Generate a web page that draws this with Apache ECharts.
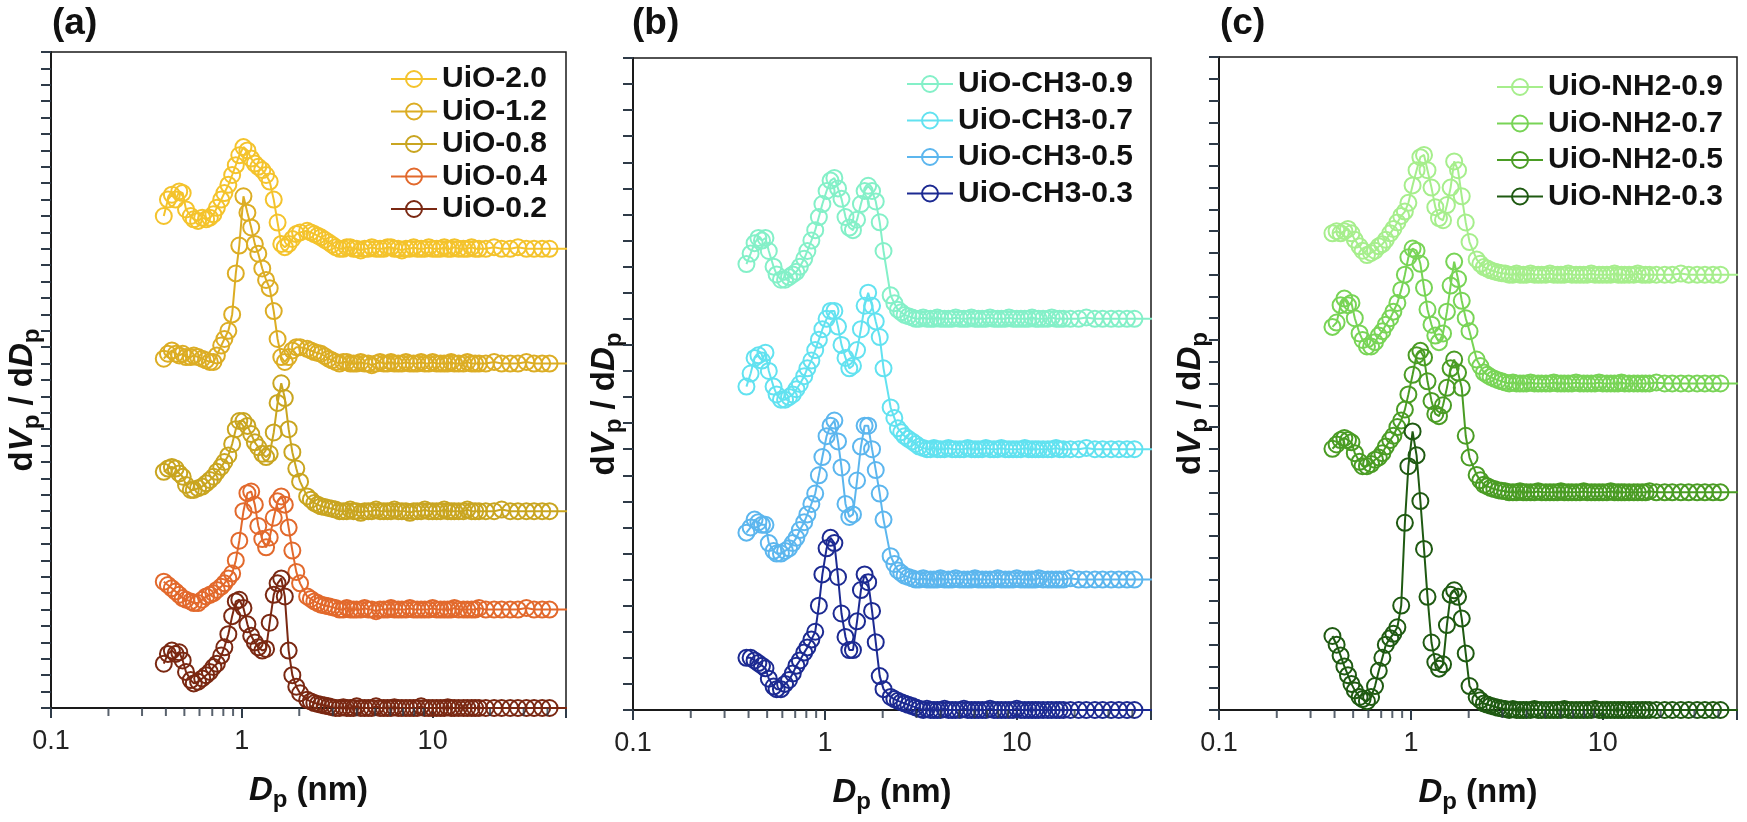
<!DOCTYPE html>
<html>
<head>
<meta charset="utf-8">
<title>Pore size distribution</title>
<script src="https://cdn.jsdelivr.net/npm/echarts@6/dist/echarts.min.js"></script>
<style>
	html, body { margin: 0; padding: 0; background: #fff; }
	#chart { width: 1747px; height: 822px; }
</style>
</head>
<body>
<div id="chart"></div>
<script>

// pore diameter Dp (nm), same bins for every sample; the last bin lies past the axis end
const XS = [
	0.39, 0.41, 0.43, 0.45, 0.47, 0.49, 0.51, 0.54, 0.56, 0.59,
	0.62, 0.65, 0.68, 0.71, 0.74, 0.78, 0.81, 0.85, 0.89, 0.93,
	0.97, 1.02, 1.07, 1.12, 1.17, 1.22, 1.28, 1.34, 1.40, 1.47,
	1.54, 1.61, 1.68, 1.76, 1.84, 1.93, 2.02,
	2.2, 2.3, 2.4, 2.5, 2.6, 2.72, 2.85, 2.97, 3.1,
	3.25, 3.4, 3.55, 3.7, 3.85, 4.0, 4.2, 4.4, 4.6, 4.8,
	5.05, 5.3, 5.55, 5.8, 6.05, 6.3, 6.6, 6.9, 7.25, 7.6,
	7.95, 8.3, 8.7, 9.1, 9.55, 10, 10.5, 11, 11.5, 12,
	12.5, 13, 13.7, 14.5, 15.2, 16, 16.7, 17.5, 19, 21,
	23, 25.5, 28, 31, 34, 37.5, 41, 60
];

// minor ticks of the log axis
const MINOR_TICKS = [0.2, 0.3, 0.4, 0.5, 0.6, 0.7, 0.8, 0.9, 2, 3, 4, 5, 6, 7, 8, 9, 20, 30, 40];

// ---- panel (a) ----
const A_NAMES = ['UiO-2.0', 'UiO-1.2', 'UiO-0.8', 'UiO-0.4', 'UiO-0.2'];
const A_COLORS = ['#f4c32c', '#dcad24', '#c9a520', '#e2692c', '#7a2812'];
const A_OFFSETS = [28, 21, 12, 6, 0];
const A_20 = [
	2.0, 3.0, 3.3, 3.0, 3.5, 3.4, 2.4, 2.0, 1.8, 1.7, 1.9, 1.8, 1.9, 2.1, 2.5, 3.0, 3.4, 3.9, 4.5, 5.1, 5.7, 6.2, 6.0, 5.5, 5.2, 5.0, 4.8, 4.5, 4.1, 3.0, 1.6, 0.3, 0.1, 0.3, 0.6, 0.9, 1.0,
	1.1, 1.0, 0.9, 0.8, 0.7, 0.55, 0.4, 0.25, 0.1,
	0.0, 0.0, 0.1, 0.1, 0.0, 0.0, -0.1, 0.0, 0.0, 0.1, 0.0, 0.0, 0.0, 0.1, 0.1, 0.0, 0.0, -0.1, 0.0, 0.0, 0.1, 0.0, 0.0, 0.0,
	0.1, 0.0, 0.0, 0.0, 0.1, 0.0, 0.0, 0.1, 0.0, 0.0, 0.0, 0.1, 0.0, 0.0, 0.0, 0.1, 0.0, 0.0, 0.1, 0.0, 0.0, 0.0, 0.0, 0.0
];
const A_12 = [
	0.3, 0.6, 0.8, 0.6, 0.5, 0.6, 0.4, 0.4, 0.5, 0.4, 0.3, 0.2, 0.1, 0.1, 0.5, 1.1, 1.5, 2.0, 3.0, 5.5, 7.2, 10.2, 9.2, 8.3, 7.3, 6.7, 5.8, 5.1, 4.6, 3.2, 1.5, 0.4, 0.1, 0.4, 0.8, 1.0, 1.0,
	0.9, 0.8, 0.7, 0.65, 0.6, 0.45, 0.3, 0.2, 0.1,
	0.0, 0.1, 0.1, 0.0, 0.0, 0.0, 0.1, 0.0, 0.0, -0.1, 0.0, 0.1, 0.0, 0.0, 0.1, 0.0, 0.0, 0.0, 0.1, 0.0, 0.0, 0.0, 0.1, 0.0,
	0.0, 0.1, 0.0, 0.0, 0.0, 0.0, 0.1, 0.0, 0.0, 0.0, 0.1, 0.0, 0.0, 0.0, 0.0, 0.1, 0.0, 0.0, 0.0, 0.1, 0.0, 0.0, 0.0, 0.0
];
const A_08 = [
	2.4, 2.6, 2.7, 2.6, 2.3, 2.1, 1.6, 1.3, 1.3, 1.4, 1.5, 1.7, 1.9, 2.1, 2.4, 2.7, 3.0, 3.4, 4.1, 5.0, 5.5, 5.5, 5.2, 4.7, 4.2, 3.9, 3.5, 3.3, 3.5, 4.8, 6.6, 7.8, 6.9, 5.0, 3.6, 2.6, 1.8,
	0.9, 0.7, 0.5, 0.4, 0.3, 0.25, 0.2, 0.15, 0.1,
	0.0, 0.0, 0.0, 0.1, 0.0, 0.0, -0.1, 0.0, 0.0, 0.0, 0.1, 0.0, 0.0, 0.0, 0.0, 0.1, 0.0, 0.0, 0.0, -0.1, 0.0, 0.0, 0.0, 0.1,
	0.0, 0.0, 0.0, 0.0, 0.1, 0.0, 0.0, 0.0, 0.0, 0.0, 0.1, 0.0, 0.0, 0.0, 0.0, 0.0, 0.1, 0.0, 0.0, 0.0, 0.0, 0.0, 0.0, 0.0
];
const A_04 = [
	1.7, 1.5, 1.3, 1.1, 0.9, 0.7, 0.6, 0.5, 0.4, 0.4, 0.6, 0.8, 0.9, 1.0, 1.2, 1.4, 1.6, 1.9, 2.2, 3.0, 4.2, 6.0, 7.1, 7.2, 6.4, 5.1, 4.3, 3.8, 4.4, 5.6, 6.6, 6.9, 6.4, 5.0, 3.6, 2.3, 1.6,
	0.8, 0.65, 0.5, 0.4, 0.3, 0.25, 0.2, 0.15, 0.1,
	0.0, 0.0, 0.1, 0.0, 0.0, 0.0, 0.0, 0.1, 0.0, 0.0, -0.1, 0.0, 0.0, 0.0, 0.1, 0.0, 0.0, 0.0, 0.0, 0.1, 0.0, 0.0, 0.0, 0.0,
	0.0, 0.1, 0.0, 0.0, 0.0, 0.0, 0.0, 0.1, 0.0, 0.0, 0.0, 0.0, 0.0, 0.1, 0.0, 0.0, 0.0, 0.0, 0.0, 0.1, 0.0, 0.0, 0.0, 0.0
];
const A_02 = [
	2.7, 3.3, 3.5, 3.3, 3.4, 2.9, 2.2, 1.7, 1.5, 1.6, 1.8, 2.0, 2.2, 2.5, 2.7, 3.2, 3.7, 4.5, 5.6, 6.5, 6.6, 6.1, 5.1, 4.4, 4.0, 3.7, 3.5, 3.6, 5.2, 6.9, 7.6, 7.9, 6.8, 3.5, 2.0, 1.3, 0.9,
	0.5, 0.4, 0.3, 0.25, 0.2, 0.15, 0.1, 0.05, 0.0,
	0.0, 0.05, 0.0, 0.0, 0.0, 0.1, 0.0, 0.0, 0.0, 0.0, 0.1, 0.0, 0.0, 0.0, 0.0, 0.05, 0.0, 0.0, 0.0, 0.0, 0.0, 0.0, 0.1, 0.0,
	0.0, 0.0, 0.0, 0.0, 0.0, 0.05, 0.0, 0.0, 0.0, 0.0, 0.0, 0.0, 0.0, 0.0, 0.0, 0.0, 0.0, 0.0, 0.0, 0.0, 0.0, 0.0, 0.0, 0.0
];

// ---- panel (b) ----
const B_NAMES = ['UiO-CH3-0.9', 'UiO-CH3-0.7', 'UiO-CH3-0.5', 'UiO-CH3-0.3'];
const B_COLORS = ['#84f0c8', '#62e2f0', '#5cb6ee', '#1c2a92'];
const B_OFFSETS = [15, 10, 5, 0];
const B_09 = [
	2.1, 2.5, 2.9, 3.1, 3.0, 3.1, 2.6, 2.0, 1.7, 1.5, 1.5, 1.6, 1.7, 1.8, 2.0, 2.3, 2.6, 3.0, 3.4, 3.9, 4.4, 4.9, 5.3, 5.4, 5.0, 4.6, 3.9, 3.5, 3.4, 3.8, 4.4, 4.9, 5.1, 4.9, 4.5, 3.7, 2.6,
	0.9, 0.6, 0.35, 0.25, 0.15, 0.1, 0.05, 0.0, 0.0,
	0.05, 0.0, 0.0, 0.0, 0.05, 0.0, 0.0, 0.0, 0.0, 0.05, 0.0, 0.0, 0.0, 0.05, 0.0, 0.0, 0.0, 0.0, 0.05, 0.0, 0.0, 0.0, 0.0, 0.05,
	0.0, 0.0, 0.0, 0.0, 0.0, 0.05, 0.0, 0.0, 0.0, 0.0, 0.05, 0.0, 0.0, 0.0, 0.0, 0.0, 0.05, 0.0, 0.0, 0.0, 0.0, 0.0, 0.0, 0.0
];
const B_07 = [
	2.4, 2.9, 3.5, 3.6, 3.4, 3.7, 3.0, 2.4, 2.1, 1.9, 1.9, 2.0, 2.1, 2.3, 2.5, 2.8, 3.1, 3.4, 3.8, 4.2, 4.6, 5.0, 5.3, 5.3, 4.7, 4.0, 3.5, 3.1, 3.2, 3.8, 4.6, 5.5, 6.0, 5.5, 4.9, 4.3, 3.1,
	1.6, 1.2, 0.8, 0.65, 0.5, 0.4, 0.3, 0.2, 0.1,
	0.05, 0.0, 0.0, 0.05, 0.0, 0.0, 0.0, 0.05, 0.0, 0.0, 0.0, 0.0, 0.05, 0.0, 0.0, 0.0, 0.0, 0.05, 0.0, 0.0, 0.0, 0.05, 0.0, 0.0,
	0.0, 0.0, 0.0, 0.05, 0.0, 0.0, 0.0, 0.0, 0.0, 0.0, 0.0, 0.05, 0.0, 0.0, 0.0, 0.0, 0.05, 0.0, 0.0, 0.0, 0.0, 0.0, 0.0, 0.0
];
const B_05 = [
	1.8, 2.0, 2.3, 2.2, 2.1, 2.1, 1.4, 1.1, 1.0, 1.0, 1.1, 1.2, 1.4, 1.6, 1.9, 2.2, 2.5, 2.9, 3.3, 4.0, 4.7, 5.5, 5.9, 6.1, 5.3, 4.3, 2.9, 2.4, 2.5, 3.8, 5.1, 5.9, 5.9, 5.0, 4.2, 3.3, 2.3,
	0.9, 0.6, 0.35, 0.25, 0.15, 0.1, 0.05, 0.0, 0.0,
	0.05, 0.0, 0.0, 0.0, 0.0, 0.05, 0.0, 0.0, 0.0, 0.05, 0.0, 0.0, 0.0, 0.0, 0.05, 0.0, 0.0, 0.0, 0.0, 0.0, 0.05, 0.0, 0.0, 0.0,
	0.0, 0.05, 0.0, 0.0, 0.0, 0.0, 0.0, 0.05, 0.0, 0.0, 0.0, 0.0, 0.0, 0.0, 0.05, 0.0, 0.0, 0.0, 0.0, 0.0, 0.0, 0.0, 0.0, 0.0
];
const B_03 = [
	2.0, 2.0, 1.9, 1.8, 1.7, 1.6, 1.2, 0.9, 0.8, 0.8, 1.0, 1.15, 1.4, 1.7, 1.9, 2.2, 2.4, 2.7, 3.0, 4.0, 5.2, 6.2, 6.6, 6.4, 5.1, 3.7, 2.8, 2.3, 2.3, 3.4, 4.6, 5.2, 4.9, 3.8, 2.6, 1.3, 0.8,
	0.5, 0.42, 0.35, 0.3, 0.25, 0.2, 0.15, 0.1, 0.05,
	0.0, 0.05, 0.0, 0.0, 0.0, 0.0, 0.05, 0.0, 0.0, 0.0, 0.0, 0.05, 0.0, 0.0, 0.0, 0.0, 0.0, 0.0, 0.05, 0.0, 0.0, 0.0, 0.0, 0.0,
	0.0, 0.05, 0.0, 0.0, 0.0, 0.0, 0.0, 0.0, 0.0, 0.0, 0.0, 0.0, 0.0, 0.0, 0.0, 0.0, 0.0, 0.0, 0.0, 0.0, 0.0, 0.0, 0.0, 0.0
];

// ---- panel (c) ----
const C_NAMES = ['UiO-NH2-0.9', 'UiO-NH2-0.7', 'UiO-NH2-0.5', 'UiO-NH2-0.3'];
const C_COLORS = ['#a6ee8c', '#78d456', '#4a9c24', '#1f5a12'];
const C_OFFSETS = [20, 15, 10, 0];
const C_09 = [
	1.9, 2.0, 1.9, 2.0, 2.1, 1.9, 1.6, 1.3, 1.1, 0.9, 1.0, 1.1, 1.3, 1.4, 1.6, 1.9, 2.1, 2.4, 2.7, 2.9, 3.3, 4.1, 4.8, 5.4, 5.5, 4.8, 4.0, 3.1, 2.6, 2.5, 3.2, 4.0, 5.2, 4.8, 3.6, 2.4, 1.5,
	0.7, 0.5, 0.35, 0.28, 0.2, 0.15, 0.1, 0.07, 0.05,
	0.0, 0.0, 0.05, 0.0, 0.0, 0.0, 0.05, 0.0, 0.0, 0.0, 0.0, 0.05, 0.0, 0.0, 0.0, 0.0, 0.05, 0.0, 0.0, 0.0, 0.0, 0.0, 0.05, 0.0,
	0.0, 0.0, 0.0, 0.0, 0.05, 0.0, 0.0, 0.0, 0.0, 0.0, 0.05, 0.0, 0.0, 0.0, 0.0, 0.0, 0.0, 0.05, 0.0, 0.0, 0.0, 0.0, 0.0, 0.0
];
const C_07 = [
	2.6, 2.8, 3.6, 3.9, 3.6, 3.7, 3.0, 2.3, 2.0, 1.7, 1.7, 1.9, 2.2, 2.4, 2.7, 3.0, 3.3, 3.7, 4.3, 5.0, 5.8, 6.2, 6.1, 5.5, 4.4, 3.4, 2.7, 2.2, 1.9, 2.3, 3.3, 4.5, 5.6, 4.8, 3.8, 3.0, 2.4,
	1.1, 0.8, 0.5, 0.4, 0.3, 0.22, 0.15, 0.1, 0.05,
	0.0, 0.05, 0.0, 0.0, 0.0, 0.0, 0.05, 0.0, 0.0, 0.0, 0.0, 0.0, 0.05, 0.0, 0.0, 0.0, 0.0, 0.0, 0.05, 0.0, 0.0, 0.0, 0.0, 0.0,
	0.05, 0.0, 0.0, 0.0, 0.0, 0.0, 0.05, 0.0, 0.0, 0.0, 0.0, 0.0, 0.0, 0.0, 0.05, 0.0, 0.0, 0.0, 0.0, 0.0, 0.0, 0.0, 0.0, 0.0
];
const C_05 = [
	2.0, 2.2, 2.4, 2.5, 2.4, 2.3, 1.8, 1.4, 1.2, 1.2, 1.3, 1.5, 1.6, 1.8, 2.1, 2.4, 2.6, 3.0, 3.3, 3.8, 4.5, 5.4, 6.3, 6.5, 6.2, 5.1, 4.2, 3.6, 3.5, 4.0, 4.8, 5.7, 6.1, 5.5, 4.8, 2.6, 1.6,
	0.8, 0.55, 0.35, 0.28, 0.2, 0.15, 0.1, 0.07, 0.05,
	0.0, 0.0, 0.0, 0.05, 0.0, 0.0, 0.0, 0.0, 0.05, 0.0, 0.0, 0.0, 0.0, 0.0, 0.05, 0.0, 0.0, 0.0, 0.0, 0.0, 0.05, 0.0, 0.0, 0.0,
	0.0, 0.0, 0.0, 0.05, 0.0, 0.0, 0.0, 0.0, 0.0, 0.0, 0.0, 0.0, 0.0, 0.05, 0.0, 0.0, 0.0, 0.0, 0.0, 0.0, 0.0, 0.0, 0.0, 0.0
];
const C_03 = [
	3.4, 3.0, 2.5, 2.0, 1.6, 1.2, 0.9, 0.6, 0.5, 0.4, 0.6, 1.1, 1.8, 2.4, 3.0, 3.3, 3.5, 3.8, 4.8, 8.6, 11.2, 12.8, 11.7, 9.6, 7.4, 5.2, 3.1, 2.2, 1.9, 2.1, 3.9, 5.3, 5.5, 5.2, 4.2, 2.6, 1.1,
	0.6, 0.45, 0.3, 0.25, 0.2, 0.15, 0.1, 0.07, 0.05,
	0.0, 0.05, 0.0, 0.0, 0.0, 0.0, 0.0, 0.05, 0.0, 0.0, 0.0, 0.0, 0.0, 0.0, 0.0, 0.05, 0.0, 0.0, 0.0, 0.0, 0.0, 0.0, 0.0, 0.05,
	0.0, 0.0, 0.0, 0.0, 0.0, 0.0, 0.0, 0.0, 0.0, 0.0, 0.0, 0.0, 0.0, 0.0, 0.0, 0.0, 0.0, 0.0, 0.0, 0.0, 0.0, 0.0, 0.0, 0.0
];

const FONT = '"Liberation Sans", Arial, Helvetica, sans-serif';
const AXIS_COLOR = '#1a1a1a';
const TICK_COLOR = '#2f3b48';

let app = {
	panels: [],
	layout: [],
	option: {},

	init: {},
	buildPanel: {},
	render: {}
};

// panels: data grouped per chart
app.panels = [
	{ label: '(a)', names: A_NAMES, colors: A_COLORS, offsets: A_OFFSETS, values: [A_20, A_12, A_08, A_04, A_02], steps: 40 },
	{ label: '(b)', names: B_NAMES, colors: B_COLORS, offsets: B_OFFSETS, values: [B_09, B_07, B_05, B_03], steps: 25 },
	{ label: '(c)', names: C_NAMES, colors: C_COLORS, offsets: C_OFFSETS, values: [C_09, C_07, C_05, C_03], steps: 30 }
];

// where each panel sits on the page (px)
app.layout = [
	{ left: 51, top: 52, width: 515, height: 656, labelLeft: 47, legendLeft: 390, legendTop: 64, legendGap: 2.5 },
	{ left: 633, top: 58, width: 518, height: 652, labelLeft: 627, legendLeft: 906, legendTop: 69, legendGap: 6.5 },
	{ left: 1219, top: 57, width: 518, height: 653, labelLeft: 1215, legendLeft: 1496, legendTop: 72, legendGap: 6.5 }
];

// rich text for the axis names (italic symbols + subscripts)
const RICH = {
	b: { fontSize: 33, fontWeight: 'bold', color: '#111', fontFamily: FONT, lineHeight: 35, verticalAlign: 'top' },
	bi: { fontSize: 33, fontWeight: 'bold', fontStyle: 'italic', color: '#111', fontFamily: FONT, lineHeight: 35, verticalAlign: 'top' },
	s: { fontSize: 24, fontWeight: 'bold', color: '#111', fontFamily: FONT, lineHeight: 24, verticalAlign: 'top', padding: [14, 0, 0, 0] }
};

app.init = function () {

	this.chart = echarts.init(document.getElementById('chart'));

	this.option = {
		animation: false,
		backgroundColor: '#fff',
		title: [],
		grid: [],
		xAxis: [],
		yAxis: [],
		legend: [],
		series: []
	};

	for (let k = 0; k < this.panels.length; k++) {
		this.buildPanel(k);
	}

	this.render();
};

app.buildPanel = function (k) {

	let p = this.panels[k];
	let g = this.layout[k];
	let opt = this.option;

	opt.grid.push({
		left: g.left, top: g.top, width: g.width, height: g.height,
		show: true, borderColor: AXIS_COLOR, borderWidth: 1.5, backgroundColor: 'transparent'
	});

	opt.title.push({
		text: p.label, left: g.labelLeft, top: 0,
		textStyle: { fontSize: 37, fontWeight: 'bold', color: '#111', fontFamily: FONT }
	});

	opt.xAxis.push({
		type: 'log', logBase: 10, gridIndex: k, min: 0.1, max: 50,
		name: '{bi|D}{s|p}{b| (nm)}', nameLocation: 'middle', nameGap: 66,
		nameTextStyle: { rich: RICH },
		axisLine: { onZero: false, lineStyle: { color: AXIS_COLOR, width: 2 } },
		axisTick: { length: 10, lineStyle: { color: TICK_COLOR, width: 2 } },
		axisLabel: {
			margin: 20, fontSize: 27, color: '#222', fontFamily: FONT,
			formatter: function (v) {
				let e = Math.log10(v);
				if (Math.abs(e - Math.round(e)) > 1e-6) return '';
				return ['0.1', '1', '10', '100'][Math.round(e) + 1];
			}
		},
		splitLine: { show: false }
	});

	// name sits a little below the middle of the axis, as in the source figure
	opt.yAxis.push({
		type: 'value', gridIndex: k, min: 0, max: p.steps, interval: 1,
		name: '{b|d}{bi|V}{s|p}{b| / d}{bi|D}{s|p}', nameLocation: 'middle', nameGap: 10,
		nameTextStyle: { rich: RICH, padding: [0, 40, 0, 0] },
		axisLine: { show: true, onZero: false, lineStyle: { color: AXIS_COLOR, width: 2 } },
		axisTick: { show: true, length: 10, lineStyle: { color: TICK_COLOR, width: 2 } },
		axisLabel: { show: false },
		splitLine: { show: false }
	});

	opt.legend.push({
		data: p.names, orient: 'vertical', align: 'left',
		left: g.legendLeft, top: g.legendTop, padding: 0,
		itemWidth: 46, itemHeight: 20, itemGap: g.legendGap,
		selectedMode: false,
		textStyle: { fontSize: 30, fontWeight: 'bold', color: '#111', fontFamily: FONT, lineHeight: 30 }
	});

	// one line per sample, lifted by its offset
	for (let i = 0; i < p.values.length; i++) {
		let vals = p.values[i];
		let off = p.offsets[i];
		let c = p.colors[i];
		opt.series.push({
			name: p.names[i], type: 'line', xAxisIndex: k, yAxisIndex: k,
			data: XS.map(function (x, j) { return [x, vals[j] + off]; }),
			symbol: 'circle', symbolSize: 16, showSymbol: true, showAllSymbol: true,
			color: c,
			itemStyle: { color: 'rgba(255,255,255,0)', borderColor: c, borderWidth: 2 },
			lineStyle: { color: c, width: 2 },
			emphasis: { disabled: true },
			silent: true
		});
	}

	// minor ticks on the log axis
	opt.series.push({
		type: 'scatter', xAxisIndex: k, yAxisIndex: k,
		data: MINOR_TICKS.map(function (v) { return [v, 0]; }),
		symbol: 'rect', symbolSize: [2, 8], symbolOffset: [0, 4],
		itemStyle: { color: TICK_COLOR }, clip: false, silent: true, z: 5
	});
};

app.render = function () {
	this.chart.setOption(this.option);
};

app.init();

</script>
</body>
</html>
